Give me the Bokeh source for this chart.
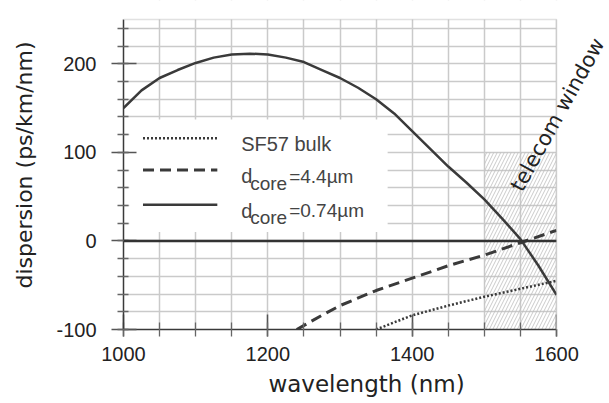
from bokeh.plotting import figure
from bokeh.models import FixedTicker, Span, Label, Range1d, BoxAnnotation, CustomJSTickFormatter
from bokeh.core.properties import value
from bokeh.embed import file_html
from bokeh.resources import INLINE

# ---- data ----
wl_thin = [1000, 1025, 1050, 1075, 1100, 1125, 1150, 1175, 1200, 1225, 1250, 1275, 1300,
           1325, 1350, 1375, 1400, 1425, 1450, 1475, 1500, 1525, 1550, 1575, 1600]
d_thin = [150, 170, 184, 193, 201, 207, 210.5, 211.5, 210.5, 207, 202, 193, 184,
          173, 160, 144, 124, 104, 84, 66, 47, 25, 2, -28, -61]

wl_thick = [1240, 1275, 1300, 1350, 1400, 1450, 1500, 1550, 1600]
d_thick = [-100, -84, -73, -56, -42, -28, -16, -2, 12]

wl_bulk = [1350, 1400, 1450, 1500, 1550, 1600]
d_bulk = [-100, -84, -73, -63, -54, -45]

telecom_x = [1500, 1600]
telecom_y = [-100, 100]

x_major = [1000, 1200, 1400, 1600]
y_major = [-100, 0, 100, 200]
x_lim = [1000, 1600]
y_lim = [-100, 250]

legend_names = ["SF57 bulk", "=4.4\u00b5m", "=0.74\u00b5m"]
window_label = "telecom window"

# ---- styles ----
CURVE = "#3a3a3a"
GRID = "#cacaca"
AX = "#3a3a3a"
FRAME = "#9a9a9a"

# frame is extended to the right/top so that the rotated label can sit outside the box
p = figure(width=609, height=403, x_range=Range1d(1000, 1673.4), y_range=Range1d(-100, 271.5),
           output_backend="svg", toolbar_location=None,
           min_border_left=123, min_border_right=0, min_border_top=0, min_border_bottom=74)
p.background_fill_color = "white"
p.border_fill_color = "white"
p.outline_line_color = None

# grid
p.xgrid.ticker = FixedTicker(ticks=list(range(1000, 1601, 50)))
p.ygrid.ticker = FixedTicker(ticks=list(range(-100, 241, 20)))
p.grid.grid_line_color = GRID
p.grid.grid_line_width = 1.5

# axes
fmt = CustomJSTickFormatter(code="return tick.toString();")
p.xaxis.ticker = FixedTicker(ticks=x_major, minor_ticks=list(range(1000, 1601, 50)))
p.yaxis.ticker = FixedTicker(ticks=y_major, minor_ticks=list(range(-100, 241, 20)))
p.xaxis.bounds = tuple(x_lim)
p.yaxis.bounds = tuple(y_lim)
for ax in (p.xaxis[0], p.yaxis[0]):
    ax.formatter = fmt
    ax.axis_line_color = AX
    ax.axis_line_width = 1.5
    ax.major_tick_line_color = "#555"
    ax.minor_tick_line_color = "#666"
    ax.major_tick_line_width = 1.5
    ax.minor_tick_line_width = 1.3
    ax.major_label_text_font = "Liberation Sans"
    ax.major_label_text_font_size = "20px"
    ax.major_label_text_color = "#222"
    ax.axis_label_text_font = "DejaVu Sans"
    ax.axis_label_text_font_style = "normal"
    ax.axis_label_text_color = "#222"
p.xaxis.axis_label_text_font_size = "23px"
p.yaxis.axis_label_text_font_size = "22px"
p.xaxis.major_tick_in = 15
p.xaxis.major_tick_out = 7
p.xaxis.minor_tick_in = 7
p.xaxis.minor_tick_out = 7
p.yaxis.major_tick_in = 13
p.yaxis.major_tick_out = 12
p.yaxis.minor_tick_in = 5
p.yaxis.minor_tick_out = 6
p.xaxis.major_label_standoff = 10
p.yaxis.major_label_standoff = 15
p.xaxis.axis_label = "wavelength (nm)"
p.yaxis.axis_label = "dispersion (ps/km/nm)"
p.xaxis.axis_label_standoff = 7
p.yaxis.axis_label_standoff = 16

# telecom window hatch
p.quad(left=[telecom_x[0]], right=[telecom_x[1]], bottom=[telecom_y[0]], top=[telecom_y[1]],
       fill_color=None, line_color=None, hatch_pattern="/", hatch_color="#bdbdbd",
       hatch_scale=7, hatch_weight=0.8)

# zero line (restricted to the plotted box by the white covers below)
p.add_layout(Span(location=0, dimension="width", line_color="#333", line_width=2.5))

# curves
p.line(wl_bulk, d_bulk, line_color=CURVE, line_width=2.5, line_dash="2 2")
p.line(wl_thick, d_thick, line_color=CURVE, line_width=3, line_dash="11 6")
p.line(wl_thin, d_thin, line_color=CURVE, line_width=2.5)

# manual legend (for the subscripts)
LB_L, LB_R, LB_B, LB_T = 1008, 1366, 10, 137
p.quad(left=[LB_L], right=[LB_R], bottom=[LB_B], top=[LB_T], fill_color="white", line_color=None)
rows = [116, 80, 41]
dashes = ["2 2", "11 6", "solid"]
widths = [2.5, 3, 2.5]
SX0, SX1, TX = 1027, 1130, 1163
for ry, dsh, w in zip(rows, dashes, widths):
    p.line([SX0, SX1], [ry, ry], line_color=CURVE, line_width=w, line_dash=dsh)
font = value("Liberation Sans")
p.text(x=[TX], y=[rows[0]], text=[legend_names[0]], text_font=font, text_font_size="20px",
       text_color="#444", text_baseline="alphabetic", y_offset=6)
for ry, lab in zip(rows[1:], legend_names[1:]):
    p.text(x=[TX], y=[ry], text=["d"], text_font=font, text_font_size="20px",
           text_color="#444", text_baseline="alphabetic", y_offset=6)
    p.text(x=[TX], y=[ry], text=["core"], text_font=font, text_font_size="19px",
           text_color="#444", text_baseline="alphabetic", x_offset=9, y_offset=13)
    p.text(x=[TX], y=[ry], text=[lab], text_font=font, text_font_size="19px",
           text_color="#444", text_baseline="alphabetic", x_offset=48, y_offset=6)

# white covers outside the plotted box, then the box's top/right edges
p.add_layout(BoxAnnotation(left=x_lim[1], fill_color="white", fill_alpha=1, line_color=None))
p.add_layout(BoxAnnotation(bottom=y_lim[1], fill_color="white", fill_alpha=1, line_color=None))
p.add_layout(BoxAnnotation(left=x_lim[0] - 200, right=x_lim[1], bottom=y_lim[0] - 200, top=y_lim[1],
                           fill_color=None, fill_alpha=0, line_color=FRAME, line_width=1.5))

# telecom window label
p.add_layout(Label(x=1544, y=58, text=window_label, angle=61, angle_units="deg",
                   text_font="DejaVu Sans", text_font_size="21px", text_color="#222",
                   text_baseline="alphabetic", text_align="left"))

open("out.html", "w").write(file_html(p, INLINE))
